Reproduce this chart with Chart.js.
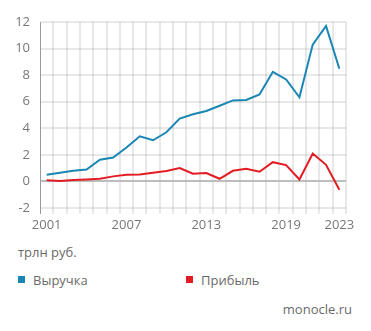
<!DOCTYPE html>
<html>
<head>
<meta charset="utf-8">
<script src="https://cdn.jsdelivr.net/npm/chart.js@4"></script>
<style>
  body { margin: 0; background: #fff; font-family: "Open Sans", sans-serif; color: #666; }
  #wrap { position: relative; width: 371px; height: 331px; }
  #chart { position: absolute; left: 0; top: 0; }
  .txt { position: absolute; font-size: 13px; color: #6a6a6a; white-space: nowrap; }
  .sq { position: absolute; width: 7px; height: 7px; }
</style>
</head>
<body>
<div id="wrap">
  <canvas id="chart" width="371" height="234"></canvas>
  <div class="txt" style="left:18px; top:243px;">трлн руб.</div>
  <div class="sq" style="left:18px; top:276px; background:#1a86b4;"></div>
  <div class="txt" style="left:33px; top:271px;">Выручка</div>
  <div class="sq" style="left:186px; top:276px; background:#e31b23;"></div>
  <div class="txt" style="left:201px; top:271px;">Прибыль</div>
  <div class="txt" style="right:19px; top:300px;">monocle.ru</div>
</div>
<script>
const YEARS = [2001, 2002, 2003, 2004, 2005, 2006, 2007, 2008, 2009, 2010, 2011, 2012,
  2013, 2014, 2015, 2016, 2017, 2018, 2019, 2020, 2021, 2022, 2023];
const SHOWN_YEARS = [2001, 2007, 2013, 2019, 2023];
const REVENUE = [0.5, 0.65, 0.8, 0.9, 1.63, 1.8, 2.55, 3.4, 3.1, 3.7, 4.73, 5.05,
  5.3, 5.7, 6.1, 6.13, 6.55, 8.25, 7.68, 6.33, 10.3, 11.7, 8.48];
const PROFIT = [0.08, 0.03, 0.1, 0.15, 0.2, 0.38, 0.5, 0.52, 0.65, 0.78, 1.0, 0.58,
  0.63, 0.2, 0.8, 0.95, 0.73, 1.45, 1.23, 0.15, 2.1, 1.25, -0.63];
const Y_TICKS = [-2, 0, 2, 4, 6, 8, 10, 12];

const font = { family: '"Open Sans", sans-serif', size: 13 };
const GRID = 'rgba(0,0,0,0.09)';

new Chart(document.getElementById('chart'), {
  type: 'line',
  data: {
    labels: YEARS.map(String),
    datasets: [
      { label: 'Выручка', data: REVENUE, borderColor: '#1a86b4', borderWidth: 2, pointRadius: 0, tension: 0 },
      { label: 'Прибыль', data: PROFIT, borderColor: '#e31b23', borderWidth: 2, pointRadius: 0, tension: 0 },
    ],
  },
  options: {
    responsive: false,
    animation: false,
    layout: { padding: { left: 0, right: 25, top: 22, bottom: 0 } },
    plugins: { legend: { display: false }, tooltip: { enabled: false } },
    scales: {
      x: {
        offset: true,
        grid: {
          display: true, drawOnChartArea: true, offset: true, tickLength: 6, drawTicks: true,
          lineWidth: (c) => (c.index === 0 ? 1 : 2),
          color: (c) => (c.index === 0 ? '#9a9a9a' : GRID),
        },
        border: { display: false },
        ticks: {
          autoSkip: false, maxRotation: 0, padding: 3, color: '#777', font,
          callback: (v, i) => (SHOWN_YEARS.includes(YEARS[i]) ? String(YEARS[i]) : ''),
        },
        afterFit: (s) => { s.height = 26; },
      },
      y: {
        min: -2, max: 12,
        afterBuildTicks: (s) => { s.ticks = Y_TICKS.map((v) => ({ value: v })); },
        grid: {
          display: true, drawOnChartArea: true, drawTicks: false,
          color: (c) => (c.tick && c.tick.value === 0 ? '#bdbdbd' : GRID),
          lineWidth: 2,
        },
        border: { display: true, color: '#9a9a9a', width: 1 },
        ticks: { padding: 10, color: '#777', font },
        afterFit: (s) => { s.width = 40; },
      },
    },
  },
});
</script>
</body>
</html>
